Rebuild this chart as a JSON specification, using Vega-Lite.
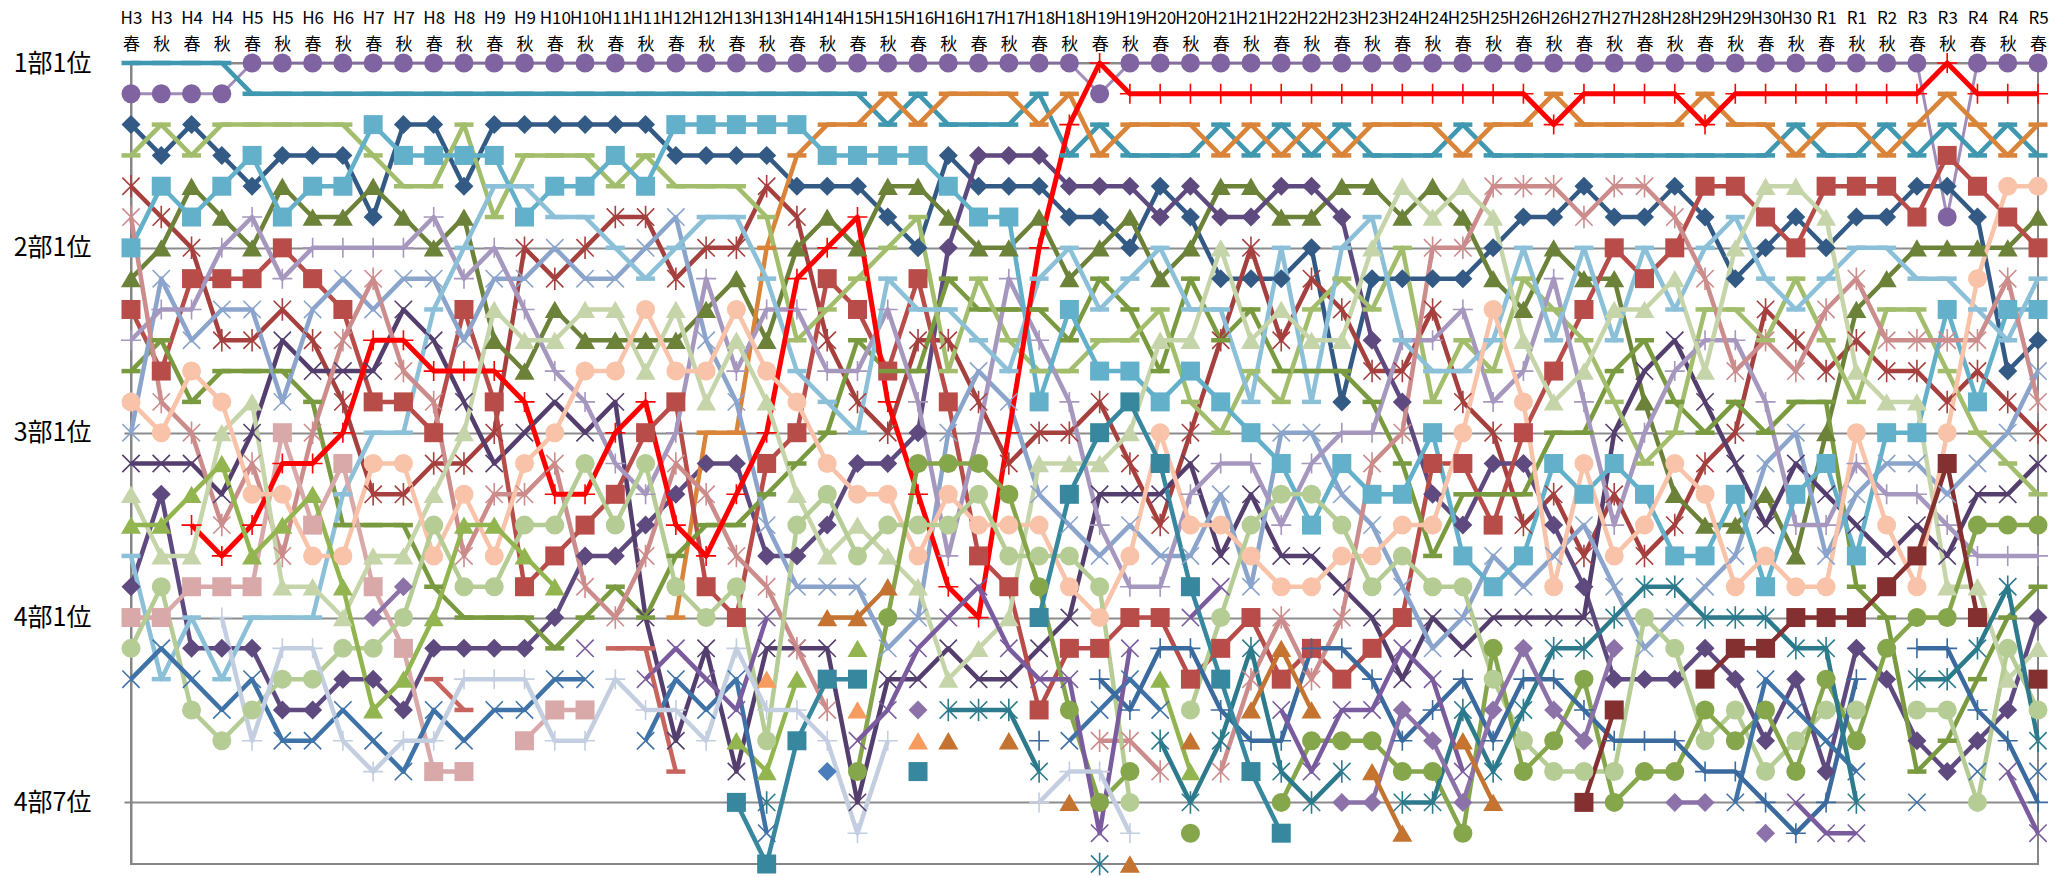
{"$schema":"https://vega.github.io/schema/vega-lite/v6.json","autosize":{"type":"none"},"padding":{"left":131,"top":63,"right":24,"bottom":12},"width":1907,"height":801,"background":"white","config":{"legend":{"disable":true},"view":{"stroke":"#868686","strokeWidth":2},"font":"Noto Sans CJK JP"},
"data":{"values":[
{"s":1,"t":0,"r":3},{"s":1,"t":1,"r":4},{"s":1,"t":2,"r":3},{"s":1,"t":3,"r":4},{"s":1,"t":4,"r":5},{"s":1,"t":5,"r":4},{"s":1,"t":6,"r":4},{"s":1,"t":7,"r":4},{"s":1,"t":8,"r":6},{"s":1,"t":9,"r":3},{"s":1,"t":10,"r":3},{"s":1,"t":11,"r":5},{"s":1,"t":12,"r":3},{"s":1,"t":13,"r":3},{"s":1,"t":14,"r":3},{"s":1,"t":15,"r":3},{"s":1,"t":16,"r":3},{"s":1,"t":17,"r":3},{"s":1,"t":18,"r":4},{"s":1,"t":19,"r":4},{"s":1,"t":20,"r":4},{"s":1,"t":21,"r":4},{"s":1,"t":22,"r":5},{"s":1,"t":23,"r":5},{"s":1,"t":24,"r":5},{"s":1,"t":25,"r":6},{"s":1,"t":26,"r":7},{"s":1,"t":27,"r":4},{"s":1,"t":28,"r":5},{"s":1,"t":29,"r":5},{"s":1,"t":30,"r":5},{"s":1,"t":31,"r":6},{"s":1,"t":32,"r":6},{"s":1,"t":33,"r":7},{"s":1,"t":34,"r":5},{"s":1,"t":35,"r":6},{"s":1,"t":36,"r":8},{"s":1,"t":37,"r":8},{"s":1,"t":38,"r":8},{"s":1,"t":39,"r":7},{"s":1,"t":40,"r":12},{"s":1,"t":41,"r":8},{"s":1,"t":42,"r":8},{"s":1,"t":43,"r":8},{"s":1,"t":44,"r":8},{"s":1,"t":45,"r":7},{"s":1,"t":46,"r":6},{"s":1,"t":47,"r":6},{"s":1,"t":48,"r":5},{"s":1,"t":49,"r":6},{"s":1,"t":50,"r":6},{"s":1,"t":51,"r":5},{"s":1,"t":52,"r":6},{"s":1,"t":53,"r":8},{"s":1,"t":54,"r":7},{"s":1,"t":55,"r":6},{"s":1,"t":56,"r":7},{"s":1,"t":57,"r":6},{"s":1,"t":58,"r":6},{"s":1,"t":59,"r":5},{"s":1,"t":60,"r":5},{"s":1,"t":61,"r":6},{"s":1,"t":62,"r":11},{"s":1,"t":63,"r":10},
{"s":2,"t":0,"r":5},{"s":2,"t":1,"r":6},{"s":2,"t":2,"r":7},{"s":2,"t":3,"r":10},{"s":2,"t":4,"r":10},{"s":2,"t":5,"r":9},{"s":2,"t":6,"r":10},{"s":2,"t":7,"r":12},{"s":2,"t":8,"r":15},{"s":2,"t":9,"r":15},{"s":2,"t":10,"r":14},{"s":2,"t":11,"r":14},{"s":2,"t":12,"r":13},{"s":2,"t":13,"r":7},{"s":2,"t":14,"r":8},{"s":2,"t":15,"r":7},{"s":2,"t":16,"r":6},{"s":2,"t":17,"r":6},{"s":2,"t":18,"r":8},{"s":2,"t":19,"r":7},{"s":2,"t":20,"r":7},{"s":2,"t":21,"r":5},{"s":2,"t":22,"r":6},{"s":2,"t":23,"r":10},{"s":2,"t":24,"r":12},{"s":2,"t":25,"r":13},{"s":2,"t":26,"r":10},{"s":2,"t":27,"r":10},{"s":2,"t":28,"r":12},{"s":2,"t":29,"r":14},{"s":2,"t":30,"r":13},{"s":2,"t":31,"r":13},{"s":2,"t":32,"r":12},{"s":2,"t":33,"r":14},{"s":2,"t":34,"r":16},{"s":2,"t":35,"r":13},{"s":2,"t":36,"r":10},{"s":2,"t":37,"r":7},{"s":2,"t":38,"r":10},{"s":2,"t":39,"r":8},{"s":2,"t":40,"r":9},{"s":2,"t":41,"r":11},{"s":2,"t":42,"r":11},{"s":2,"t":43,"r":9},{"s":2,"t":44,"r":12},{"s":2,"t":45,"r":13},{"s":2,"t":46,"r":16},{"s":2,"t":47,"r":15},{"s":2,"t":48,"r":17},{"s":2,"t":49,"r":15},{"s":2,"t":50,"r":17},{"s":2,"t":51,"r":16},{"s":2,"t":52,"r":14},{"s":2,"t":53,"r":13},{"s":2,"t":54,"r":9},{"s":2,"t":55,"r":10},{"s":2,"t":56,"r":11},{"s":2,"t":57,"r":10},{"s":2,"t":58,"r":11},{"s":2,"t":59,"r":11},{"s":2,"t":60,"r":12},{"s":2,"t":61,"r":11},{"s":2,"t":62,"r":12},{"s":2,"t":63,"r":13},
{"s":3,"t":0,"r":8},{"s":3,"t":1,"r":7},{"s":3,"t":2,"r":5},{"s":3,"t":3,"r":6},{"s":3,"t":4,"r":7},{"s":3,"t":5,"r":5},{"s":3,"t":6,"r":6},{"s":3,"t":7,"r":6},{"s":3,"t":8,"r":5},{"s":3,"t":9,"r":6},{"s":3,"t":10,"r":7},{"s":3,"t":11,"r":6},{"s":3,"t":12,"r":10},{"s":3,"t":13,"r":11},{"s":3,"t":14,"r":9},{"s":3,"t":15,"r":10},{"s":3,"t":16,"r":10},{"s":3,"t":17,"r":10},{"s":3,"t":18,"r":10},{"s":3,"t":19,"r":9},{"s":3,"t":20,"r":8},{"s":3,"t":21,"r":10},{"s":3,"t":22,"r":7},{"s":3,"t":23,"r":6},{"s":3,"t":24,"r":7},{"s":3,"t":25,"r":5},{"s":3,"t":26,"r":5},{"s":3,"t":27,"r":6},{"s":3,"t":28,"r":7},{"s":3,"t":29,"r":7},{"s":3,"t":30,"r":6},{"s":3,"t":31,"r":8},{"s":3,"t":32,"r":7},{"s":3,"t":33,"r":6},{"s":3,"t":34,"r":8},{"s":3,"t":35,"r":7},{"s":3,"t":36,"r":5},{"s":3,"t":37,"r":5},{"s":3,"t":38,"r":6},{"s":3,"t":39,"r":6},{"s":3,"t":40,"r":5},{"s":3,"t":41,"r":5},{"s":3,"t":42,"r":6},{"s":3,"t":43,"r":5},{"s":3,"t":44,"r":6},{"s":3,"t":45,"r":8},{"s":3,"t":46,"r":9},{"s":3,"t":47,"r":7},{"s":3,"t":48,"r":8},{"s":3,"t":49,"r":8},{"s":3,"t":50,"r":12},{"s":3,"t":51,"r":15},{"s":3,"t":52,"r":16},{"s":3,"t":53,"r":16},{"s":3,"t":54,"r":15},{"s":3,"t":55,"r":17},{"s":3,"t":56,"r":13},{"s":3,"t":57,"r":9},{"s":3,"t":58,"r":8},{"s":3,"t":59,"r":7},{"s":3,"t":60,"r":7},{"s":3,"t":61,"r":7},{"s":3,"t":62,"r":7},{"s":3,"t":63,"r":6},
{"s":4,"t":0,"r":18},{"s":4,"t":1,"r":15},{"s":4,"t":2,"r":20},{"s":4,"t":3,"r":20},{"s":4,"t":4,"r":20},{"s":4,"t":5,"r":22},{"s":4,"t":6,"r":22},{"s":4,"t":7,"r":21},{"s":4,"t":8,"r":21},{"s":4,"t":9,"r":22},{"s":4,"t":10,"r":20},{"s":4,"t":11,"r":20},{"s":4,"t":12,"r":20},{"s":4,"t":13,"r":20},{"s":4,"t":14,"r":19},{"s":4,"t":15,"r":17},{"s":4,"t":16,"r":17},{"s":4,"t":17,"r":16},{"s":4,"t":18,"r":15},{"s":4,"t":19,"r":14},{"s":4,"t":20,"r":14},{"s":4,"t":21,"r":17},{"s":4,"t":22,"r":17},{"s":4,"t":23,"r":16},{"s":4,"t":24,"r":14},{"s":4,"t":25,"r":14},{"s":4,"t":26,"r":13},{"s":4,"t":27,"r":7},{"s":4,"t":28,"r":4},{"s":4,"t":29,"r":4},{"s":4,"t":30,"r":4},{"s":4,"t":31,"r":5},{"s":4,"t":32,"r":5},{"s":4,"t":33,"r":5},{"s":4,"t":34,"r":6},{"s":4,"t":35,"r":5},{"s":4,"t":36,"r":6},{"s":4,"t":37,"r":6},{"s":4,"t":38,"r":5},{"s":4,"t":39,"r":5},{"s":4,"t":40,"r":6},{"s":4,"t":41,"r":10},{"s":4,"t":42,"r":12},{"s":4,"t":43,"r":15},{"s":4,"t":44,"r":16},{"s":4,"t":45,"r":14},{"s":4,"t":46,"r":14},{"s":4,"t":47,"r":16},{"s":4,"t":48,"r":18},{"s":4,"t":49,"r":21},{"s":4,"t":50,"r":21},{"s":4,"t":51,"r":21},{"s":4,"t":52,"r":20},{"s":4,"t":53,"r":21},{"s":4,"t":54,"r":23},{"s":4,"t":55,"r":21},{"s":4,"t":56,"r":24},{"s":4,"t":57,"r":20},{"s":4,"t":58,"r":21},{"s":4,"t":59,"r":23},{"s":4,"t":60,"r":24},{"s":4,"t":61,"r":23},{"s":4,"t":62,"r":22},{"s":4,"t":63,"r":19},
{"s":5,"t":0,"r":14},{"s":5,"t":1,"r":14},{"s":5,"t":2,"r":14},{"s":5,"t":3,"r":15},{"s":5,"t":4,"r":13},{"s":5,"t":5,"r":10},{"s":5,"t":6,"r":11},{"s":5,"t":7,"r":11},{"s":5,"t":8,"r":11},{"s":5,"t":9,"r":9},{"s":5,"t":10,"r":10},{"s":5,"t":11,"r":12},{"s":5,"t":12,"r":14},{"s":5,"t":13,"r":13},{"s":5,"t":14,"r":12},{"s":5,"t":15,"r":13},{"s":5,"t":16,"r":12},{"s":5,"t":17,"r":19},{"s":5,"t":18,"r":23},{"s":5,"t":19,"r":20},{"s":5,"t":20,"r":24},{"s":5,"t":21,"r":20},{"s":5,"t":22,"r":20},{"s":5,"t":23,"r":20},{"s":5,"t":24,"r":25},{"s":5,"t":25,"r":21},{"s":5,"t":26,"r":21},{"s":5,"t":27,"r":20},{"s":5,"t":28,"r":21},{"s":5,"t":29,"r":21},{"s":5,"t":30,"r":20},{"s":5,"t":31,"r":19},{"s":5,"t":32,"r":15},{"s":5,"t":33,"r":15},{"s":5,"t":34,"r":15},{"s":5,"t":35,"r":14},{"s":5,"t":36,"r":17},{"s":5,"t":37,"r":15},{"s":5,"t":38,"r":17},{"s":5,"t":39,"r":17},{"s":5,"t":40,"r":18},{"s":5,"t":41,"r":19},{"s":5,"t":42,"r":21},{"s":5,"t":43,"r":19},{"s":5,"t":44,"r":20},{"s":5,"t":45,"r":19},{"s":5,"t":46,"r":19},{"s":5,"t":47,"r":19},{"s":5,"t":48,"r":19},{"s":5,"t":49,"r":13},{"s":5,"t":50,"r":11},{"s":5,"t":51,"r":10},{"s":5,"t":52,"r":12},{"s":5,"t":53,"r":14},{"s":5,"t":54,"r":16},{"s":5,"t":55,"r":14},{"s":5,"t":56,"r":15},{"s":5,"t":57,"r":16},{"s":5,"t":58,"r":17},{"s":5,"t":59,"r":16},{"s":5,"t":60,"r":17},{"s":5,"t":61,"r":15},{"s":5,"t":62,"r":15},{"s":5,"t":63,"r":14},
{"s":6,"t":0,"r":1},{"s":6,"t":1,"r":1},{"s":6,"t":2,"r":1},{"s":6,"t":3,"r":1},{"s":6,"t":4,"r":2},{"s":6,"t":5,"r":2},{"s":6,"t":6,"r":2},{"s":6,"t":7,"r":2},{"s":6,"t":8,"r":2},{"s":6,"t":9,"r":2},{"s":6,"t":10,"r":2},{"s":6,"t":11,"r":2},{"s":6,"t":12,"r":2},{"s":6,"t":13,"r":2},{"s":6,"t":14,"r":2},{"s":6,"t":15,"r":2},{"s":6,"t":16,"r":2},{"s":6,"t":17,"r":2},{"s":6,"t":18,"r":2},{"s":6,"t":19,"r":2},{"s":6,"t":20,"r":2},{"s":6,"t":21,"r":2},{"s":6,"t":22,"r":2},{"s":6,"t":23,"r":2},{"s":6,"t":24,"r":2},{"s":6,"t":25,"r":3},{"s":6,"t":26,"r":2},{"s":6,"t":27,"r":3},{"s":6,"t":28,"r":3},{"s":6,"t":29,"r":3},{"s":6,"t":30,"r":2},{"s":6,"t":31,"r":4},{"s":6,"t":32,"r":3},{"s":6,"t":33,"r":4},{"s":6,"t":34,"r":4},{"s":6,"t":35,"r":4},{"s":6,"t":36,"r":3},{"s":6,"t":37,"r":4},{"s":6,"t":38,"r":3},{"s":6,"t":39,"r":4},{"s":6,"t":40,"r":3},{"s":6,"t":41,"r":4},{"s":6,"t":42,"r":4},{"s":6,"t":43,"r":4},{"s":6,"t":44,"r":3},{"s":6,"t":45,"r":4},{"s":6,"t":46,"r":4},{"s":6,"t":47,"r":4},{"s":6,"t":48,"r":4},{"s":6,"t":49,"r":4},{"s":6,"t":50,"r":4},{"s":6,"t":51,"r":4},{"s":6,"t":52,"r":4},{"s":6,"t":53,"r":4},{"s":6,"t":54,"r":4},{"s":6,"t":55,"r":3},{"s":6,"t":56,"r":4},{"s":6,"t":57,"r":4},{"s":6,"t":58,"r":3},{"s":6,"t":59,"r":4},{"s":6,"t":60,"r":3},{"s":6,"t":61,"r":4},{"s":6,"t":62,"r":3},{"s":6,"t":63,"r":4},
{"s":7,"t":18,"r":19},{"s":7,"t":19,"r":13},{"s":7,"t":20,"r":13},{"s":7,"t":21,"r":7},{"s":7,"t":22,"r":4},{"s":7,"t":23,"r":3},{"s":7,"t":24,"r":3},{"s":7,"t":25,"r":2},{"s":7,"t":26,"r":3},{"s":7,"t":27,"r":2},{"s":7,"t":28,"r":2},{"s":7,"t":29,"r":2},{"s":7,"t":30,"r":3},{"s":7,"t":31,"r":2},{"s":7,"t":32,"r":4},{"s":7,"t":33,"r":3},{"s":7,"t":34,"r":3},{"s":7,"t":35,"r":3},{"s":7,"t":36,"r":4},{"s":7,"t":37,"r":3},{"s":7,"t":38,"r":4},{"s":7,"t":39,"r":3},{"s":7,"t":40,"r":4},{"s":7,"t":41,"r":3},{"s":7,"t":42,"r":3},{"s":7,"t":43,"r":3},{"s":7,"t":44,"r":4},{"s":7,"t":45,"r":3},{"s":7,"t":46,"r":3},{"s":7,"t":47,"r":2},{"s":7,"t":48,"r":3},{"s":7,"t":49,"r":3},{"s":7,"t":50,"r":3},{"s":7,"t":51,"r":3},{"s":7,"t":52,"r":2},{"s":7,"t":53,"r":3},{"s":7,"t":54,"r":3},{"s":7,"t":55,"r":4},{"s":7,"t":56,"r":3},{"s":7,"t":57,"r":3},{"s":7,"t":58,"r":4},{"s":7,"t":59,"r":3},{"s":7,"t":60,"r":2},{"s":7,"t":61,"r":3},{"s":7,"t":62,"r":4},{"s":7,"t":63,"r":3},
{"s":8,"t":0,"r":9},{"s":8,"t":1,"r":11},{"s":8,"t":2,"r":8},{"s":8,"t":3,"r":8},{"s":8,"t":4,"r":8},{"s":8,"t":5,"r":7},{"s":8,"t":6,"r":8},{"s":8,"t":7,"r":9},{"s":8,"t":8,"r":12},{"s":8,"t":9,"r":12},{"s":8,"t":10,"r":13},{"s":8,"t":11,"r":9},{"s":8,"t":12,"r":12},{"s":8,"t":13,"r":18},{"s":8,"t":14,"r":17},{"s":8,"t":15,"r":16},{"s":8,"t":16,"r":15},{"s":8,"t":17,"r":13},{"s":8,"t":18,"r":12},{"s":8,"t":19,"r":18},{"s":8,"t":20,"r":19},{"s":8,"t":21,"r":14},{"s":8,"t":22,"r":13},{"s":8,"t":23,"r":8},{"s":8,"t":24,"r":9},{"s":8,"t":25,"r":11},{"s":8,"t":26,"r":8},{"s":8,"t":27,"r":12},{"s":8,"t":28,"r":17},{"s":8,"t":29,"r":18},{"s":8,"t":30,"r":22},{"s":8,"t":31,"r":20},{"s":8,"t":32,"r":20},{"s":8,"t":33,"r":19},{"s":8,"t":34,"r":19},{"s":8,"t":35,"r":21},{"s":8,"t":36,"r":20},{"s":8,"t":37,"r":19},{"s":8,"t":38,"r":21},{"s":8,"t":39,"r":20},{"s":8,"t":40,"r":21},{"s":8,"t":41,"r":20},{"s":8,"t":42,"r":19},{"s":8,"t":43,"r":14},{"s":8,"t":44,"r":14},{"s":8,"t":45,"r":16},{"s":8,"t":46,"r":13},{"s":8,"t":47,"r":11},{"s":8,"t":48,"r":9},{"s":8,"t":49,"r":7},{"s":8,"t":50,"r":8},{"s":8,"t":51,"r":7},{"s":8,"t":52,"r":5},{"s":8,"t":53,"r":5},{"s":8,"t":54,"r":6},{"s":8,"t":55,"r":7},{"s":8,"t":56,"r":5},{"s":8,"t":57,"r":5},{"s":8,"t":58,"r":5},{"s":8,"t":59,"r":6},{"s":8,"t":60,"r":4},{"s":8,"t":61,"r":5},{"s":8,"t":62,"r":6},{"s":8,"t":63,"r":7},
{"s":9,"t":0,"r":11},{"s":9,"t":1,"r":10},{"s":9,"t":2,"r":12},{"s":9,"t":3,"r":11},{"s":9,"t":4,"r":11},{"s":9,"t":5,"r":11},{"s":9,"t":6,"r":12},{"s":9,"t":7,"r":16},{"s":9,"t":8,"r":16},{"s":9,"t":9,"r":16},{"s":9,"t":10,"r":18},{"s":9,"t":11,"r":19},{"s":9,"t":12,"r":19},{"s":9,"t":13,"r":19},{"s":9,"t":14,"r":20},{"s":9,"t":15,"r":19},{"s":9,"t":16,"r":18},{"s":9,"t":17,"r":19},{"s":9,"t":18,"r":17},{"s":9,"t":19,"r":16},{"s":9,"t":20,"r":16},{"s":9,"t":21,"r":15},{"s":9,"t":22,"r":14},{"s":9,"t":23,"r":13},{"s":9,"t":24,"r":10},{"s":9,"t":25,"r":11},{"s":9,"t":26,"r":11},{"s":9,"t":27,"r":8},{"s":9,"t":28,"r":9},{"s":9,"t":29,"r":9},{"s":9,"t":30,"r":9},{"s":9,"t":31,"r":10},{"s":9,"t":32,"r":8},{"s":9,"t":33,"r":9},{"s":9,"t":34,"r":11},{"s":9,"t":35,"r":8},{"s":9,"t":36,"r":10},{"s":9,"t":37,"r":9},{"s":9,"t":38,"r":11},{"s":9,"t":39,"r":11},{"s":9,"t":40,"r":11},{"s":9,"t":41,"r":12},{"s":9,"t":42,"r":14},{"s":9,"t":43,"r":17},{"s":9,"t":44,"r":15},{"s":9,"t":45,"r":15},{"s":9,"t":46,"r":15},{"s":9,"t":47,"r":13},{"s":9,"t":48,"r":13},{"s":9,"t":49,"r":11},{"s":9,"t":50,"r":10},{"s":9,"t":51,"r":12},{"s":9,"t":52,"r":13},{"s":9,"t":53,"r":12},{"s":9,"t":54,"r":13},{"s":9,"t":55,"r":12},{"s":9,"t":56,"r":12},{"s":9,"t":57,"r":18},{"s":9,"t":58,"r":19},{"s":9,"t":59,"r":24},{"s":9,"t":60,"r":23},{"s":9,"t":61,"r":21},{"s":9,"t":62,"r":19},{"s":9,"t":63,"r":18},
{"s":10,"t":0,"r":4},{"s":10,"t":1,"r":3},{"s":10,"t":2,"r":4},{"s":10,"t":3,"r":3},{"s":10,"t":4,"r":3},{"s":10,"t":5,"r":3},{"s":10,"t":6,"r":3},{"s":10,"t":7,"r":3},{"s":10,"t":8,"r":4},{"s":10,"t":9,"r":5},{"s":10,"t":10,"r":5},{"s":10,"t":11,"r":3},{"s":10,"t":12,"r":6},{"s":10,"t":13,"r":4},{"s":10,"t":14,"r":4},{"s":10,"t":15,"r":4},{"s":10,"t":16,"r":5},{"s":10,"t":17,"r":4},{"s":10,"t":18,"r":5},{"s":10,"t":19,"r":5},{"s":10,"t":20,"r":5},{"s":10,"t":21,"r":6},{"s":10,"t":22,"r":10},{"s":10,"t":23,"r":9},{"s":10,"t":24,"r":8},{"s":10,"t":25,"r":7},{"s":10,"t":26,"r":6},{"s":10,"t":27,"r":11},{"s":10,"t":28,"r":8},{"s":10,"t":29,"r":10},{"s":10,"t":30,"r":11},{"s":10,"t":31,"r":11},{"s":10,"t":32,"r":10},{"s":10,"t":33,"r":10},{"s":10,"t":34,"r":9},{"s":10,"t":35,"r":12},{"s":10,"t":36,"r":13},{"s":10,"t":37,"r":11},{"s":10,"t":38,"r":12},{"s":10,"t":39,"r":9},{"s":10,"t":40,"r":8},{"s":10,"t":41,"r":9},{"s":10,"t":42,"r":7},{"s":10,"t":43,"r":12},{"s":10,"t":44,"r":10},{"s":10,"t":45,"r":11},{"s":10,"t":46,"r":8},{"s":10,"t":47,"r":9},{"s":10,"t":48,"r":10},{"s":10,"t":49,"r":12},{"s":10,"t":50,"r":14},{"s":10,"t":51,"r":13},{"s":10,"t":52,"r":9},{"s":10,"t":53,"r":9},{"s":10,"t":54,"r":10},{"s":10,"t":55,"r":8},{"s":10,"t":56,"r":10},{"s":10,"t":57,"r":12},{"s":10,"t":58,"r":9},{"s":10,"t":59,"r":9},{"s":10,"t":60,"r":11},{"s":10,"t":61,"r":13},{"s":10,"t":62,"r":14},{"s":10,"t":63,"r":15},
{"s":11,"t":0,"r":13},{"s":11,"t":1,"r":8},{"s":11,"t":2,"r":10},{"s":11,"t":3,"r":9},{"s":11,"t":4,"r":9},{"s":11,"t":5,"r":12},{"s":11,"t":6,"r":9},{"s":11,"t":7,"r":8},{"s":11,"t":8,"r":9},{"s":11,"t":9,"r":8},{"s":11,"t":10,"r":8},{"s":11,"t":11,"r":10},{"s":11,"t":12,"r":8},{"s":11,"t":13,"r":8},{"s":11,"t":14,"r":7},{"s":11,"t":15,"r":8},{"s":11,"t":16,"r":8},{"s":11,"t":17,"r":7},{"s":11,"t":18,"r":6},{"s":11,"t":19,"r":10},{"s":11,"t":20,"r":12},{"s":11,"t":21,"r":16},{"s":11,"t":22,"r":18},{"s":11,"t":23,"r":18},{"s":11,"t":24,"r":18},{"s":11,"t":25,"r":20},{"s":11,"t":26,"r":19},{"s":11,"t":27,"r":13},{"s":11,"t":28,"r":11},{"s":11,"t":29,"r":12},{"s":11,"t":30,"r":15},{"s":11,"t":31,"r":16},{"s":11,"t":32,"r":17},{"s":11,"t":33,"r":16},{"s":11,"t":34,"r":17},{"s":11,"t":35,"r":17},{"s":11,"t":36,"r":15},{"s":11,"t":37,"r":18},{"s":11,"t":38,"r":13},{"s":11,"t":39,"r":13},{"s":11,"t":40,"r":15},{"s":11,"t":41,"r":16},{"s":11,"t":42,"r":18},{"s":11,"t":43,"r":20},{"s":11,"t":44,"r":19},{"s":11,"t":45,"r":17},{"s":11,"t":46,"r":18},{"s":11,"t":47,"r":17},{"s":11,"t":48,"r":16},{"s":11,"t":49,"r":18},{"s":11,"t":50,"r":20},{"s":11,"t":51,"r":19},{"s":11,"t":52,"r":18},{"s":11,"t":53,"r":17},{"s":11,"t":54,"r":14},{"s":11,"t":55,"r":13},{"s":11,"t":56,"r":17},{"s":11,"t":57,"r":15},{"s":11,"t":58,"r":14},{"s":11,"t":59,"r":14},{"s":11,"t":60,"r":15},{"s":11,"t":61,"r":14},{"s":11,"t":62,"r":13},{"s":11,"t":63,"r":11},
{"s":12,"t":0,"r":10},{"s":12,"t":1,"r":9},{"s":12,"t":2,"r":9},{"s":12,"t":3,"r":7},{"s":12,"t":4,"r":6},{"s":12,"t":5,"r":8},{"s":12,"t":6,"r":7},{"s":12,"t":7,"r":7},{"s":12,"t":8,"r":7},{"s":12,"t":9,"r":7},{"s":12,"t":10,"r":6},{"s":12,"t":11,"r":8},{"s":12,"t":12,"r":7},{"s":12,"t":13,"r":9},{"s":12,"t":14,"r":11},{"s":12,"t":15,"r":12},{"s":12,"t":16,"r":14},{"s":12,"t":17,"r":15},{"s":12,"t":18,"r":13},{"s":12,"t":19,"r":8},{"s":12,"t":20,"r":11},{"s":12,"t":21,"r":9},{"s":12,"t":22,"r":9},{"s":12,"t":23,"r":11},{"s":12,"t":24,"r":11},{"s":12,"t":25,"r":9},{"s":12,"t":26,"r":12},{"s":12,"t":27,"r":17},{"s":12,"t":28,"r":13},{"s":12,"t":29,"r":8},{"s":12,"t":30,"r":10},{"s":12,"t":31,"r":12},{"s":12,"t":32,"r":16},{"s":12,"t":33,"r":18},{"s":12,"t":34,"r":18},{"s":12,"t":35,"r":15},{"s":12,"t":36,"r":14},{"s":12,"t":37,"r":14},{"s":12,"t":38,"r":16},{"s":12,"t":39,"r":14},{"s":12,"t":40,"r":13},{"s":12,"t":41,"r":13},{"s":12,"t":42,"r":10},{"s":12,"t":43,"r":10},{"s":12,"t":44,"r":9},{"s":12,"t":45,"r":12},{"s":12,"t":46,"r":11},{"s":12,"t":47,"r":8},{"s":12,"t":48,"r":12},{"s":12,"t":49,"r":16},{"s":12,"t":50,"r":13},{"s":12,"t":51,"r":11},{"s":12,"t":52,"r":10},{"s":12,"t":53,"r":10},{"s":12,"t":54,"r":12},{"s":12,"t":55,"r":16},{"s":12,"t":56,"r":16},{"s":12,"t":57,"r":14},{"s":12,"t":58,"r":15},{"s":12,"t":59,"r":15},{"s":12,"t":60,"r":16},{"s":12,"t":61,"r":17},{"s":12,"t":62,"r":17},{"s":12,"t":63,"r":17},
{"s":13,"t":0,"r":7},{"s":13,"t":1,"r":5},{"s":13,"t":2,"r":6},{"s":13,"t":3,"r":5},{"s":13,"t":4,"r":4},{"s":13,"t":5,"r":6},{"s":13,"t":6,"r":5},{"s":13,"t":7,"r":5},{"s":13,"t":8,"r":3},{"s":13,"t":9,"r":4},{"s":13,"t":10,"r":4},{"s":13,"t":11,"r":4},{"s":13,"t":12,"r":4},{"s":13,"t":13,"r":6},{"s":13,"t":14,"r":5},{"s":13,"t":15,"r":5},{"s":13,"t":16,"r":4},{"s":13,"t":17,"r":5},{"s":13,"t":18,"r":3},{"s":13,"t":19,"r":3},{"s":13,"t":20,"r":3},{"s":13,"t":21,"r":3},{"s":13,"t":22,"r":3},{"s":13,"t":23,"r":4},{"s":13,"t":24,"r":4},{"s":13,"t":25,"r":4},{"s":13,"t":26,"r":4},{"s":13,"t":27,"r":5},{"s":13,"t":28,"r":6},{"s":13,"t":29,"r":6},{"s":13,"t":30,"r":12},{"s":13,"t":31,"r":9},{"s":13,"t":32,"r":11},{"s":13,"t":33,"r":11},{"s":13,"t":34,"r":12},{"s":13,"t":35,"r":11},{"s":13,"t":36,"r":12},{"s":13,"t":37,"r":13},{"s":13,"t":38,"r":14},{"s":13,"t":39,"r":16},{"s":13,"t":40,"r":14},{"s":13,"t":41,"r":15},{"s":13,"t":42,"r":15},{"s":13,"t":43,"r":13},{"s":13,"t":44,"r":17},{"s":13,"t":45,"r":18},{"s":13,"t":46,"r":17},{"s":13,"t":47,"r":14},{"s":13,"t":48,"r":15},{"s":13,"t":49,"r":14},{"s":13,"t":50,"r":15},{"s":13,"t":51,"r":17},{"s":13,"t":52,"r":17},{"s":13,"t":53,"r":15},{"s":13,"t":54,"r":18},{"s":13,"t":55,"r":15},{"s":13,"t":56,"r":14},{"s":13,"t":57,"r":17},{"s":13,"t":58,"r":13},{"s":13,"t":59,"r":13},{"s":13,"t":60,"r":9},{"s":13,"t":61,"r":12},{"s":13,"t":62,"r":9},{"s":13,"t":63,"r":9},
{"s":14,"t":0,"r":17},{"s":14,"t":1,"r":21},{"s":14,"t":2,"r":19},{"s":14,"t":3,"r":21},{"s":14,"t":4,"r":19},{"s":14,"t":5,"r":19},{"s":14,"t":6,"r":19},{"s":14,"t":7,"r":15},{"s":14,"t":8,"r":13},{"s":14,"t":9,"r":13},{"s":14,"t":10,"r":9},{"s":14,"t":11,"r":7},{"s":14,"t":12,"r":5},{"s":14,"t":13,"r":5},{"s":14,"t":14,"r":6},{"s":14,"t":15,"r":6},{"s":14,"t":16,"r":7},{"s":14,"t":17,"r":8},{"s":14,"t":18,"r":7},{"s":14,"t":19,"r":6},{"s":14,"t":20,"r":6},{"s":14,"t":21,"r":8},{"s":14,"t":22,"r":11},{"s":14,"t":23,"r":12},{"s":14,"t":24,"r":13},{"s":14,"t":25,"r":8},{"s":14,"t":26,"r":9},{"s":14,"t":27,"r":9},{"s":14,"t":28,"r":10},{"s":14,"t":29,"r":11},{"s":14,"t":30,"r":8},{"s":14,"t":31,"r":7},{"s":14,"t":32,"r":9},{"s":14,"t":33,"r":8},{"s":14,"t":34,"r":7},{"s":14,"t":35,"r":9},{"s":14,"t":36,"r":9},{"s":14,"t":37,"r":12},{"s":14,"t":38,"r":7},{"s":14,"t":39,"r":12},{"s":14,"t":40,"r":7},{"s":14,"t":41,"r":6},{"s":14,"t":42,"r":10},{"s":14,"t":43,"r":11},{"s":14,"t":44,"r":11},{"s":14,"t":45,"r":10},{"s":14,"t":46,"r":7},{"s":14,"t":47,"r":10},{"s":14,"t":48,"r":7},{"s":14,"t":49,"r":10},{"s":14,"t":50,"r":7},{"s":14,"t":51,"r":9},{"s":14,"t":52,"r":7},{"s":14,"t":53,"r":6},{"s":14,"t":54,"r":8},{"s":14,"t":55,"r":9},{"s":14,"t":56,"r":8},{"s":14,"t":57,"r":7},{"s":14,"t":58,"r":7},{"s":14,"t":59,"r":8},{"s":14,"t":60,"r":8},{"s":14,"t":61,"r":9},{"s":14,"t":62,"r":10},{"s":14,"t":63,"r":8},
{"s":15,"t":0,"r":6},{"s":15,"t":1,"r":12},{"s":15,"t":2,"r":13},{"s":15,"t":3,"r":16},{"s":15,"t":4,"r":14},{"s":15,"t":5,"r":17},{"s":15,"t":6,"r":13},{"s":15,"t":7,"r":10},{"s":15,"t":8,"r":8},{"s":15,"t":9,"r":11},{"s":15,"t":10,"r":12},{"s":15,"t":11,"r":17},{"s":15,"t":12,"r":15},{"s":15,"t":13,"r":15},{"s":15,"t":14,"r":14},{"s":15,"t":15,"r":18},{"s":15,"t":16,"r":19},{"s":15,"t":17,"r":17},{"s":15,"t":18,"r":14},{"s":15,"t":19,"r":15},{"s":15,"t":20,"r":17},{"s":15,"t":21,"r":18},{"s":15,"t":22,"r":20},{"s":15,"t":23,"r":22},{"s":15,"t":24,"r":null},{"s":15,"t":32,"r":23},{"s":15,"t":33,"r":23},{"s":15,"t":34,"r":24},{"s":15,"t":35,"r":null},{"s":15,"t":36,"r":24},{"s":15,"t":37,"r":21},{"s":15,"t":38,"r":19},{"s":15,"t":39,"r":21},{"s":15,"t":40,"r":19},{"s":15,"t":41,"r":14},{"s":15,"t":42,"r":13},{"s":15,"t":43,"r":7},{"s":15,"t":44,"r":7},{"s":15,"t":45,"r":5},{"s":15,"t":46,"r":5},{"s":15,"t":47,"r":5},{"s":15,"t":48,"r":6},{"s":15,"t":49,"r":5},{"s":15,"t":50,"r":5},{"s":15,"t":51,"r":6},{"s":15,"t":52,"r":8},{"s":15,"t":53,"r":11},{"s":15,"t":54,"r":10},{"s":15,"t":55,"r":11},{"s":15,"t":56,"r":9},{"s":15,"t":57,"r":8},{"s":15,"t":58,"r":10},{"s":15,"t":59,"r":10},{"s":15,"t":60,"r":10},{"s":15,"t":61,"r":10},{"s":15,"t":62,"r":8},{"s":15,"t":63,"r":12},
{"s":16,"t":0,"r":19},{"s":16,"t":1,"r":19},{"s":16,"t":2,"r":18},{"s":16,"t":3,"r":18},{"s":16,"t":4,"r":18},{"s":16,"t":5,"r":13},{"s":16,"t":6,"r":16},{"s":16,"t":7,"r":14},{"s":16,"t":8,"r":18},{"s":16,"t":9,"r":20},{"s":16,"t":10,"r":24},{"s":16,"t":11,"r":24},{"s":16,"t":12,"r":null},{"s":16,"t":13,"r":23},{"s":16,"t":14,"r":22},{"s":16,"t":15,"r":22},
{"s":17,"t":0,"r":15},{"s":17,"t":1,"r":17},{"s":17,"t":2,"r":17},{"s":17,"t":3,"r":13},{"s":17,"t":4,"r":12},{"s":17,"t":5,"r":18},{"s":17,"t":6,"r":18},{"s":17,"t":7,"r":19},{"s":17,"t":8,"r":17},{"s":17,"t":9,"r":17},{"s":17,"t":10,"r":15},{"s":17,"t":11,"r":13},{"s":17,"t":12,"r":9},{"s":17,"t":13,"r":10},{"s":17,"t":14,"r":10},{"s":17,"t":15,"r":9},{"s":17,"t":16,"r":9},{"s":17,"t":17,"r":11},{"s":17,"t":18,"r":9},{"s":17,"t":19,"r":12},{"s":17,"t":20,"r":10},{"s":17,"t":21,"r":12},{"s":17,"t":22,"r":15},{"s":17,"t":23,"r":17},{"s":17,"t":24,"r":16},{"s":17,"t":25,"r":17},{"s":17,"t":26,"r":18},{"s":17,"t":27,"r":21},{"s":17,"t":28,"r":20},{"s":17,"t":29,"r":19},{"s":17,"t":30,"r":14},{"s":17,"t":31,"r":14},{"s":17,"t":32,"r":14},{"s":17,"t":33,"r":13},{"s":17,"t":34,"r":10},{"s":17,"t":35,"r":10},{"s":17,"t":36,"r":7},{"s":17,"t":37,"r":10},{"s":17,"t":38,"r":9},{"s":17,"t":39,"r":10},{"s":17,"t":40,"r":10},{"s":17,"t":41,"r":7},{"s":17,"t":42,"r":5},{"s":17,"t":43,"r":6},{"s":17,"t":44,"r":5},{"s":17,"t":45,"r":6},{"s":17,"t":46,"r":10},{"s":17,"t":47,"r":12},{"s":17,"t":48,"r":11},{"s":17,"t":49,"r":9},{"s":17,"t":50,"r":9},{"s":17,"t":51,"r":8},{"s":17,"t":52,"r":11},{"s":17,"t":53,"r":7},{"s":17,"t":54,"r":5},{"s":17,"t":55,"r":5},{"s":17,"t":56,"r":6},{"s":17,"t":57,"r":11},{"s":17,"t":58,"r":12},{"s":17,"t":59,"r":12},{"s":17,"t":60,"r":18},{"s":17,"t":61,"r":18},{"s":17,"t":62,"r":21},{"s":17,"t":63,"r":20},
{"s":18,"t":0,"r":12},{"s":18,"t":1,"r":13},{"s":18,"t":2,"r":11},{"s":18,"t":3,"r":12},{"s":18,"t":4,"r":15},{"s":18,"t":5,"r":15},{"s":18,"t":6,"r":17},{"s":18,"t":7,"r":17},{"s":18,"t":8,"r":14},{"s":18,"t":9,"r":14},{"s":18,"t":10,"r":17},{"s":18,"t":11,"r":15},{"s":18,"t":12,"r":17},{"s":18,"t":13,"r":14},{"s":18,"t":14,"r":13},{"s":18,"t":15,"r":11},{"s":18,"t":16,"r":11},{"s":18,"t":17,"r":9},{"s":18,"t":18,"r":11},{"s":18,"t":19,"r":11},{"s":18,"t":20,"r":9},{"s":18,"t":21,"r":11},{"s":18,"t":22,"r":12},{"s":18,"t":23,"r":14},{"s":18,"t":24,"r":15},{"s":18,"t":25,"r":15},{"s":18,"t":26,"r":17},{"s":18,"t":27,"r":15},{"s":18,"t":28,"r":16},{"s":18,"t":29,"r":16},{"s":18,"t":30,"r":16},{"s":18,"t":31,"r":18},{"s":18,"t":32,"r":19},{"s":18,"t":33,"r":17},{"s":18,"t":34,"r":13},{"s":18,"t":35,"r":16},{"s":18,"t":36,"r":16},{"s":18,"t":37,"r":17},{"s":18,"t":38,"r":18},{"s":18,"t":39,"r":18},{"s":18,"t":40,"r":17},{"s":18,"t":41,"r":17},{"s":18,"t":42,"r":16},{"s":18,"t":43,"r":16},{"s":18,"t":44,"r":13},{"s":18,"t":45,"r":9},{"s":18,"t":46,"r":12},{"s":18,"t":47,"r":18},{"s":18,"t":48,"r":14},{"s":18,"t":49,"r":17},{"s":18,"t":50,"r":16},{"s":18,"t":51,"r":14},{"s":18,"t":52,"r":15},{"s":18,"t":53,"r":18},{"s":18,"t":54,"r":17},{"s":18,"t":55,"r":18},{"s":18,"t":56,"r":18},{"s":18,"t":57,"r":13},{"s":18,"t":58,"r":16},{"s":18,"t":59,"r":18},{"s":18,"t":60,"r":13},{"s":18,"t":61,"r":8},{"s":18,"t":62,"r":5},{"s":18,"t":63,"r":5},
{"s":19,"t":0,"r":20},{"s":19,"t":1,"r":18},{"s":19,"t":2,"r":22},{"s":19,"t":3,"r":23},{"s":19,"t":4,"r":22},{"s":19,"t":5,"r":21},{"s":19,"t":6,"r":21},{"s":19,"t":7,"r":20},{"s":19,"t":8,"r":20},{"s":19,"t":9,"r":19},{"s":19,"t":10,"r":16},{"s":19,"t":11,"r":18},{"s":19,"t":12,"r":18},{"s":19,"t":13,"r":16},{"s":19,"t":14,"r":16},{"s":19,"t":15,"r":14},{"s":19,"t":16,"r":16},{"s":19,"t":17,"r":14},{"s":19,"t":18,"r":18},{"s":19,"t":19,"r":19},{"s":19,"t":20,"r":18},{"s":19,"t":21,"r":23},{"s":19,"t":22,"r":16},{"s":19,"t":23,"r":15},{"s":19,"t":24,"r":17},{"s":19,"t":25,"r":16},{"s":19,"t":26,"r":16},{"s":19,"t":27,"r":16},{"s":19,"t":28,"r":15},{"s":19,"t":29,"r":17},{"s":19,"t":30,"r":17},{"s":19,"t":31,"r":17},{"s":19,"t":32,"r":18},{"s":19,"t":33,"r":25},{"s":19,"t":34,"r":null},{"s":19,"t":35,"r":22},{"s":19,"t":36,"r":19},{"s":19,"t":37,"r":16},{"s":19,"t":38,"r":15},{"s":19,"t":39,"r":15},{"s":19,"t":40,"r":16},{"s":19,"t":41,"r":18},{"s":19,"t":42,"r":17},{"s":19,"t":43,"r":18},{"s":19,"t":44,"r":18},{"s":19,"t":45,"r":21},{"s":19,"t":46,"r":23},{"s":19,"t":47,"r":24},{"s":19,"t":48,"r":24},{"s":19,"t":49,"r":24},{"s":19,"t":50,"r":19},{"s":19,"t":51,"r":20},{"s":19,"t":52,"r":23},{"s":19,"t":53,"r":22},{"s":19,"t":54,"r":24},{"s":19,"t":55,"r":23},{"s":19,"t":56,"r":22},{"s":19,"t":57,"r":22},{"s":19,"t":58,"r":null},{"s":19,"t":59,"r":22},{"s":19,"t":60,"r":22},{"s":19,"t":61,"r":25},{"s":19,"t":62,"r":20},{"s":19,"t":63,"r":22},
{"s":20,"t":24,"r":24},{"s":20,"t":25,"r":19},{"s":20,"t":26,"r":14},{"s":20,"t":27,"r":14},{"s":20,"t":28,"r":14},{"s":20,"t":29,"r":15},{"s":20,"t":30,"r":18},{"s":20,"t":31,"r":22},{"s":20,"t":32,"r":25},{"s":20,"t":33,"r":24},{"s":20,"t":34,"r":null},{"s":20,"t":35,"r":26},{"s":20,"t":36,"r":null},{"s":20,"t":38,"r":25},{"s":20,"t":39,"r":23},{"s":20,"t":40,"r":23},{"s":20,"t":41,"r":23},{"s":20,"t":42,"r":24},{"s":20,"t":43,"r":24},{"s":20,"t":44,"r":26},{"s":20,"t":45,"r":20},{"s":20,"t":46,"r":24},{"s":20,"t":47,"r":23},{"s":20,"t":48,"r":21},{"s":20,"t":49,"r":25},{"s":20,"t":50,"r":24},{"s":20,"t":51,"r":24},{"s":20,"t":52,"r":22},{"s":20,"t":53,"r":23},{"s":20,"t":54,"r":22},{"s":20,"t":55,"r":24},{"s":20,"t":56,"r":21},{"s":20,"t":57,"r":23},{"s":20,"t":58,"r":20},{"s":20,"t":59,"r":19},{"s":20,"t":60,"r":19},{"s":20,"t":61,"r":16},{"s":20,"t":62,"r":16},{"s":20,"t":63,"r":16},
{"s":21,"t":0,"r":16},{"s":21,"t":1,"r":16},{"s":21,"t":2,"r":15},{"s":21,"t":3,"r":14},{"s":21,"t":4,"r":17},{"s":21,"t":5,"r":16},{"s":21,"t":6,"r":15},{"s":21,"t":7,"r":18},{"s":21,"t":8,"r":22},{"s":21,"t":9,"r":21},{"s":21,"t":10,"r":19},{"s":21,"t":11,"r":16},{"s":21,"t":12,"r":16},{"s":21,"t":13,"r":17},{"s":21,"t":14,"r":18},{"s":21,"t":15,"r":null},{"s":21,"t":20,"r":23},{"s":21,"t":21,"r":24},{"s":21,"t":22,"r":21},{"s":21,"t":23,"r":null},{"s":21,"t":24,"r":20},{"s":21,"t":25,"r":null},{"s":21,"t":34,"r":21},{"s":21,"t":35,"r":24},
{"s":22,"t":0,"r":21},{"s":22,"t":1,"r":20},{"s":22,"t":2,"r":21},{"s":22,"t":3,"r":22},{"s":22,"t":4,"r":21},{"s":22,"t":5,"r":23},{"s":22,"t":6,"r":23},{"s":22,"t":7,"r":22},{"s":22,"t":8,"r":23},{"s":22,"t":9,"r":24},{"s":22,"t":10,"r":22},{"s":22,"t":11,"r":23},{"s":22,"t":12,"r":22},{"s":22,"t":13,"r":22},{"s":22,"t":14,"r":21},{"s":22,"t":15,"r":21},{"s":22,"t":16,"r":null},{"s":22,"t":17,"r":23},{"s":22,"t":18,"r":21},{"s":22,"t":19,"r":22},{"s":22,"t":20,"r":21},{"s":22,"t":21,"r":26},{"s":22,"t":22,"r":null},{"s":22,"t":31,"r":23},{"s":22,"t":32,"r":22},{"s":22,"t":33,"r":21},{"s":22,"t":34,"r":22},{"s":22,"t":35,"r":null},{"s":22,"t":53,"r":25},{"s":22,"t":54,"r":21},{"s":22,"t":55,"r":22},{"s":22,"t":56,"r":23},{"s":22,"t":57,"r":24},{"s":22,"t":58,"r":null},{"s":22,"t":59,"r":25},{"s":22,"t":60,"r":null},{"s":22,"t":61,"r":24},{"s":22,"t":62,"r":null},{"s":22,"t":63,"r":24},
{"s":23,"t":30,"r":23},{"s":23,"t":31,"r":null},{"s":23,"t":32,"r":21},{"s":23,"t":33,"r":22},{"s":23,"t":34,"r":20},{"s":23,"t":35,"r":20},{"s":23,"t":36,"r":22},{"s":23,"t":37,"r":23},{"s":23,"t":38,"r":23},{"s":23,"t":39,"r":20},{"s":23,"t":40,"r":20},{"s":23,"t":41,"r":21},{"s":23,"t":42,"r":23},{"s":23,"t":43,"r":22},{"s":23,"t":44,"r":21},{"s":23,"t":45,"r":23},{"s":23,"t":46,"r":21},{"s":23,"t":47,"r":21},{"s":23,"t":48,"r":22},{"s":23,"t":49,"r":23},{"s":23,"t":50,"r":23},{"s":23,"t":51,"r":23},{"s":23,"t":52,"r":24},{"s":23,"t":53,"r":24},{"s":23,"t":54,"r":25},{"s":23,"t":55,"r":26},{"s":23,"t":56,"r":25},{"s":23,"t":57,"r":21},{"s":23,"t":58,"r":null},{"s":23,"t":59,"r":20},{"s":23,"t":60,"r":20},{"s":23,"t":61,"r":22},{"s":23,"t":62,"r":23},{"s":23,"t":63,"r":25},
{"s":24,"t":21,"r":25},{"s":24,"t":22,"r":null},{"s":24,"t":27,"r":22},{"s":24,"t":28,"r":22},{"s":24,"t":29,"r":22},{"s":24,"t":30,"r":24},{"s":24,"t":31,"r":null},{"s":24,"t":32,"r":27},{"s":24,"t":33,"r":null},{"s":24,"t":34,"r":23},{"s":24,"t":35,"r":25},{"s":24,"t":36,"r":23},{"s":24,"t":37,"r":20},{"s":24,"t":38,"r":24},{"s":24,"t":39,"r":25},{"s":24,"t":40,"r":24},{"s":24,"t":41,"r":null},{"s":24,"t":42,"r":25},{"s":24,"t":43,"r":25},{"s":24,"t":44,"r":22},{"s":24,"t":45,"r":24},{"s":24,"t":46,"r":22},{"s":24,"t":47,"r":20},{"s":24,"t":48,"r":20},{"s":24,"t":49,"r":19},{"s":24,"t":50,"r":18},{"s":24,"t":51,"r":18},{"s":24,"t":52,"r":19},{"s":24,"t":53,"r":19},{"s":24,"t":54,"r":19},{"s":24,"t":55,"r":20},{"s":24,"t":56,"r":20},{"s":24,"t":57,"r":25},{"s":24,"t":58,"r":null},{"s":24,"t":59,"r":21},{"s":24,"t":60,"r":21},{"s":24,"t":61,"r":20},{"s":24,"t":62,"r":18},{"s":24,"t":63,"r":23},
{"s":25,"t":15,"r":20},{"s":25,"t":16,"r":null},{"s":25,"t":17,"r":21},{"s":25,"t":18,"r":20},{"s":25,"t":19,"r":21},{"s":25,"t":20,"r":22},{"s":25,"t":21,"r":19},{"s":25,"t":22,"r":null},{"s":25,"t":24,"r":23},{"s":25,"t":25,"r":22},{"s":25,"t":26,"r":20},{"s":25,"t":27,"r":19},{"s":25,"t":28,"r":18},{"s":25,"t":29,"r":20},{"s":25,"t":30,"r":21},{"s":25,"t":31,"r":21},{"s":25,"t":32,"r":26},{"s":25,"t":33,"r":20},{"s":25,"t":34,"r":null},{"s":25,"t":35,"r":19},{"s":25,"t":36,"r":18},{"s":25,"t":37,"r":null},{"s":25,"t":38,"r":22},{"s":25,"t":39,"r":24},{"s":25,"t":40,"r":22},{"s":25,"t":41,"r":22},{"s":25,"t":42,"r":20},{"s":25,"t":43,"r":21},{"s":25,"t":44,"r":24},{"s":25,"t":45,"r":null},{"s":25,"t":55,"r":25},{"s":25,"t":56,"r":26},{"s":25,"t":57,"r":26},{"s":25,"t":58,"r":null},{"s":25,"t":62,"r":24},{"s":25,"t":63,"r":26},
{"s":26,"t":8,"r":19},{"s":26,"t":9,"r":18},{"s":26,"t":10,"r":null},{"s":26,"t":26,"r":22},{"s":26,"t":27,"r":null},{"s":26,"t":40,"r":25},{"s":26,"t":41,"r":25},{"s":26,"t":42,"r":22},{"s":26,"t":43,"r":23},{"s":26,"t":44,"r":25},{"s":26,"t":45,"r":22},{"s":26,"t":46,"r":20},{"s":26,"t":47,"r":22},{"s":26,"t":48,"r":23},{"s":26,"t":49,"r":20},{"s":26,"t":50,"r":null},{"s":26,"t":51,"r":25},{"s":26,"t":52,"r":25},{"s":26,"t":53,"r":null},{"s":26,"t":54,"r":26},
{"s":27,"t":20,"r":25},{"s":27,"t":21,"r":27},{"s":27,"t":22,"r":23},{"s":27,"t":23,"r":21},{"s":27,"t":24,"r":21},{"s":27,"t":25,"r":null},{"s":27,"t":26,"r":24},{"s":27,"t":27,"r":null},{"s":27,"t":30,"r":19},{"s":27,"t":31,"r":15},{"s":27,"t":32,"r":13},{"s":27,"t":33,"r":12},{"s":27,"t":34,"r":14},{"s":27,"t":35,"r":18},{"s":27,"t":36,"r":21},{"s":27,"t":37,"r":24},{"s":27,"t":38,"r":26},
{"s":28,"t":23,"r":19},{"s":28,"t":24,"r":19},{"s":28,"t":25,"r":18},{"s":28,"t":26,"r":null},{"s":28,"t":27,"r":23},{"s":28,"t":28,"r":null},{"s":28,"t":29,"r":23},{"s":28,"t":30,"r":null},{"s":28,"t":31,"r":25},{"s":28,"t":32,"r":null},{"s":28,"t":33,"r":27},{"s":28,"t":34,"r":null},{"s":28,"t":35,"r":23},{"s":28,"t":36,"r":null},{"s":28,"t":37,"r":22},{"s":28,"t":38,"r":20},{"s":28,"t":39,"r":22},{"s":28,"t":40,"r":null},{"s":28,"t":41,"r":24},{"s":28,"t":42,"r":26},{"s":28,"t":43,"r":null},{"s":28,"t":44,"r":23},{"s":28,"t":45,"r":25},
{"s":29,"t":21,"r":21},{"s":29,"t":22,"r":null},{"s":29,"t":24,"r":22},{"s":29,"t":25,"r":null},{"s":29,"t":26,"r":23},
{"s":30,"t":10,"r":21},{"s":30,"t":11,"r":22},{"s":30,"t":12,"r":null},{"s":30,"t":16,"r":20},{"s":30,"t":17,"r":20},{"s":30,"t":18,"r":24},
{"s":31,"t":3,"r":19},{"s":31,"t":4,"r":23},{"s":31,"t":5,"r":20},{"s":31,"t":6,"r":20},{"s":31,"t":7,"r":23},{"s":31,"t":8,"r":24},{"s":31,"t":9,"r":23},{"s":31,"t":10,"r":23},{"s":31,"t":11,"r":21},{"s":31,"t":12,"r":21},{"s":31,"t":13,"r":21},{"s":31,"t":14,"r":23},{"s":31,"t":15,"r":23},{"s":31,"t":16,"r":21},{"s":31,"t":17,"r":22},{"s":31,"t":18,"r":22},{"s":31,"t":19,"r":23},{"s":31,"t":20,"r":20},{"s":31,"t":21,"r":22},{"s":31,"t":22,"r":22},{"s":31,"t":23,"r":23},{"s":31,"t":24,"r":26},{"s":31,"t":25,"r":23},{"s":31,"t":26,"r":null},{"s":31,"t":30,"r":25},{"s":31,"t":31,"r":24},{"s":31,"t":32,"r":24},{"s":31,"t":33,"r":26},
{"s":32,"t":48,"r":25},{"s":32,"t":49,"r":22},{"s":32,"t":50,"r":null},{"s":32,"t":52,"r":21},{"s":32,"t":53,"r":20},{"s":32,"t":54,"r":20},{"s":32,"t":55,"r":19},{"s":32,"t":56,"r":19},{"s":32,"t":57,"r":19},{"s":32,"t":58,"r":18},{"s":32,"t":59,"r":17},{"s":32,"t":60,"r":14},{"s":32,"t":61,"r":19},{"s":32,"t":62,"r":null},{"s":32,"t":63,"r":21},
{"s":33,"t":23,"r":24},
{"s":34,"t":0,"r":2},{"s":34,"t":1,"r":2},{"s":34,"t":2,"r":2},{"s":34,"t":3,"r":2},{"s":34,"t":4,"r":1},{"s":34,"t":5,"r":1},{"s":34,"t":6,"r":1},{"s":34,"t":7,"r":1},{"s":34,"t":8,"r":1},{"s":34,"t":9,"r":1},{"s":34,"t":10,"r":1},{"s":34,"t":11,"r":1},{"s":34,"t":12,"r":1},{"s":34,"t":13,"r":1},{"s":34,"t":14,"r":1},{"s":34,"t":15,"r":1},{"s":34,"t":16,"r":1},{"s":34,"t":17,"r":1},{"s":34,"t":18,"r":1},{"s":34,"t":19,"r":1},{"s":34,"t":20,"r":1},{"s":34,"t":21,"r":1},{"s":34,"t":22,"r":1},{"s":34,"t":23,"r":1},{"s":34,"t":24,"r":1},{"s":34,"t":25,"r":1},{"s":34,"t":26,"r":1},{"s":34,"t":27,"r":1},{"s":34,"t":28,"r":1},{"s":34,"t":29,"r":1},{"s":34,"t":30,"r":1},{"s":34,"t":31,"r":1},{"s":34,"t":32,"r":2},{"s":34,"t":33,"r":1},{"s":34,"t":34,"r":1},{"s":34,"t":35,"r":1},{"s":34,"t":36,"r":1},{"s":34,"t":37,"r":1},{"s":34,"t":38,"r":1},{"s":34,"t":39,"r":1},{"s":34,"t":40,"r":1},{"s":34,"t":41,"r":1},{"s":34,"t":42,"r":1},{"s":34,"t":43,"r":1},{"s":34,"t":44,"r":1},{"s":34,"t":45,"r":1},{"s":34,"t":46,"r":1},{"s":34,"t":47,"r":1},{"s":34,"t":48,"r":1},{"s":34,"t":49,"r":1},{"s":34,"t":50,"r":1},{"s":34,"t":51,"r":1},{"s":34,"t":52,"r":1},{"s":34,"t":53,"r":1},{"s":34,"t":54,"r":1},{"s":34,"t":55,"r":1},{"s":34,"t":56,"r":1},{"s":34,"t":57,"r":1},{"s":34,"t":58,"r":1},{"s":34,"t":59,"r":1},{"s":34,"t":60,"r":6},{"s":34,"t":61,"r":1},{"s":34,"t":62,"r":1},{"s":34,"t":63,"r":1},
{"s":35,"t":2,"r":16},{"s":35,"t":3,"r":17},{"s":35,"t":4,"r":16},{"s":35,"t":5,"r":14},{"s":35,"t":6,"r":14},{"s":35,"t":7,"r":13},{"s":35,"t":8,"r":10},{"s":35,"t":9,"r":10},{"s":35,"t":10,"r":11},{"s":35,"t":11,"r":11},{"s":35,"t":12,"r":11},{"s":35,"t":13,"r":12},{"s":35,"t":14,"r":15},{"s":35,"t":15,"r":15},{"s":35,"t":16,"r":13},{"s":35,"t":17,"r":12},{"s":35,"t":18,"r":16},{"s":35,"t":19,"r":17},{"s":35,"t":20,"r":15},{"s":35,"t":21,"r":13},{"s":35,"t":22,"r":8},{"s":35,"t":23,"r":7},{"s":35,"t":24,"r":6},{"s":35,"t":25,"r":12},{"s":35,"t":26,"r":15},{"s":35,"t":27,"r":18},{"s":35,"t":28,"r":19},{"s":35,"t":29,"r":13},{"s":35,"t":30,"r":7},{"s":35,"t":31,"r":3},{"s":35,"t":32,"r":1},{"s":35,"t":33,"r":2},{"s":35,"t":34,"r":2},{"s":35,"t":35,"r":2},{"s":35,"t":36,"r":2},{"s":35,"t":37,"r":2},{"s":35,"t":38,"r":2},{"s":35,"t":39,"r":2},{"s":35,"t":40,"r":2},{"s":35,"t":41,"r":2},{"s":35,"t":42,"r":2},{"s":35,"t":43,"r":2},{"s":35,"t":44,"r":2},{"s":35,"t":45,"r":2},{"s":35,"t":46,"r":2},{"s":35,"t":47,"r":3},{"s":35,"t":48,"r":2},{"s":35,"t":49,"r":2},{"s":35,"t":50,"r":2},{"s":35,"t":51,"r":2},{"s":35,"t":52,"r":3},{"s":35,"t":53,"r":2},{"s":35,"t":54,"r":2},{"s":35,"t":55,"r":2},{"s":35,"t":56,"r":2},{"s":35,"t":57,"r":2},{"s":35,"t":58,"r":2},{"s":35,"t":59,"r":2},{"s":35,"t":60,"r":1},{"s":35,"t":61,"r":2},{"s":35,"t":62,"r":2},{"s":35,"t":63,"r":2}
]},
"encoding":{
"x":{"field":"t","type":"quantitative","scale":{"domain":[0,63],"nice":false,"zero":false},"axis":{"orient":"top","title":null,"grid":false,"ticks":false,"domain":false,"values":[0,1,2,3,4,5,6,7,8,9,10,11,12,13,14,15,16,17,18,19,20,21,22,23,24,25,26,27,28,29,30,31,32,33,34,35,36,37,38,39,40,41,42,43,44,45,46,47,48,49,50,51,52,53,54,55,56,57,58,59,60,61,62,63],"labelExpr":"[['H3','春'],['H3','秋'],['H4','春'],['H4','秋'],['H5','春'],['H5','秋'],['H6','春'],['H6','秋'],['H7','春'],['H7','秋'],['H8','春'],['H8','秋'],['H9','春'],['H9','秋'],['H10','春'],['H10','秋'],['H11','春'],['H11','秋'],['H12','春'],['H12','秋'],['H13','春'],['H13','秋'],['H14','春'],['H14','秋'],['H15','春'],['H15','秋'],['H16','春'],['H16','秋'],['H17','春'],['H17','秋'],['H18','春'],['H18','秋'],['H19','春'],['H19','秋'],['H20','春'],['H20','秋'],['H21','春'],['H21','秋'],['H22','春'],['H22','秋'],['H23','春'],['H23','秋'],['H24','春'],['H24','秋'],['H25','春'],['H25','秋'],['H26','春'],['H26','秋'],['H27','春'],['H27','秋'],['H28','春'],['H28','秋'],['H29','春'],['H29','秋'],['H30','春'],['H30','秋'],['R1','春'],['R1','秋'],['R2','秋'],['R3','春'],['R3','秋'],['R4','春'],['R4','秋'],['R5','春']][datum.value]","labelFont":"Noto Sans CJK JP","labelFontSize":17,"labelLineHeight":26,"labelPadding":36,"labelColor":"#000000","labelAngle":0,"labelOverlap":false,"labelFlush":false,"labelBound":false}},
"y":{"field":"r","type":"quantitative","scale":{"domain":[1,27],"reverse":true,"nice":false,"zero":false},"axis":{"title":null,"values":[1,7,13,19,25],"grid":true,"gridColor":"#8c8c8c","gridWidth":2,"domainColor":"#868686","domainWidth":2,"tickColor":"#868686","tickWidth":2,"tickSize":7,"labelPadding":33,"labelFont":"Noto Sans CJK JP","labelFontSize":25,"labelColor":"#000000","labelExpr":"{'1':'1部1位','7':'2部1位','13':'3部1位','19':'4部1位','25':'4部7位'}[datum.value]"}},
"color":{"field":"s","type":"nominal","scale":{"domain":[1,2,3,4,5,6,7,8,9,10,11,12,13,14,15,16,17,18,19,20,21,22,23,24,25,26,27,28,29,30,31,32,33,34,35],"range":["#335A85","#A5403E","#6B8238","#5F4A80","#543E6E","#3F97B0","#D98438","#B84C49","#7A9A40","#A2BD6B","#8BA4CC","#A697BF","#62B0C9","#8BC0D8","#CC8C8C","#D9A9A9","#C6D5A9","#F8C3A8","#B5CC94","#86A64C","#92B550","#3F73A8","#3A6A9E","#2C7A8C","#7A5C9E","#8C72A8","#37879F","#C47430","#F89B5E","#C8645E","#C3CEE0","#843030","#4A7EBB","#8064A2","#FF0000"]}}
},
"layer":[
{"mark":{"type":"line","strokeWidth":3,"clip":false,"strokeJoin":"round","opacity":0.75},"transform":[{"filter":{"field":"s","equal":34}}]},
{"mark":{"type":"line","strokeWidth":4.5,"strokeJoin":"round","clip":false},"transform":[{"filter":{"field":"s","oneOf":[1,2,3,4,5,6,7,8,9,10,11,12,13,14,15,16]}}],"encoding":{"detail":{"field":"s"}}},
{"mark":{"type":"line","strokeWidth":5,"clip":false,"strokeJoin":"round"},"transform":[{"filter":{"field":"s","equal":35}}]},
{"mark":{"type":"line","strokeWidth":4.5,"strokeJoin":"round","clip":false},"transform":[{"filter":{"field":"s","oneOf":[17,18,19,20,21,22,23,24,25,26,27,28,29,30,31,32,33]}}],"encoding":{"detail":{"field":"s"}}},
{"mark":{"type":"point","shape":"diamond","filled":true,"size":361,"opacity":1,"clip":false},"transform":[{"filter":{"field":"s","oneOf":[1,4,26,33]}}]},
{"mark":{"type":"point","shape":"square","filled":true,"size":361,"opacity":1,"clip":false},"transform":[{"filter":{"field":"s","oneOf":[8,13,16,27,32]}}]},
{"mark":{"type":"point","shape":"triangle-up","filled":true,"size":400,"opacity":1,"clip":false},"transform":[{"filter":{"field":"s","oneOf":[3,17,21,28,29]}}]},
{"mark":{"type":"point","shape":"M-1,-1L1,1M-1,1L1,-1","filled":false,"size":300,"strokeWidth":1.6,"opacity":1,"clip":false},"transform":[{"filter":{"field":"s","oneOf":[5,11,22,25]}}]},
{"mark":{"type":"point","shape":"M-1,-1L1,1M-1,1L1,-1M0,-1.3L0,1.3","filled":false,"size":300,"strokeWidth":1.6,"opacity":1,"clip":false},"transform":[{"filter":{"field":"s","oneOf":[2,15,24]}}]},
{"mark":{"type":"point","shape":"M0,-1L0,1M-1,0L1,0","filled":false,"size":400,"strokeWidth":1.6,"opacity":1,"clip":false},"transform":[{"filter":{"field":"s","oneOf":[12,23,31,35]}}]},
{"mark":{"type":"point","shape":"M-1,0L1,0","filled":false,"size":361,"strokeWidth":4.5,"opacity":1,"clip":false},"transform":[{"filter":{"field":"s","oneOf":[6,7,9,10,14,30]}}]},
{"mark":{"type":"point","shape":"circle","filled":true,"size":361,"opacity":1,"clip":false},"transform":[{"filter":{"field":"s","oneOf":[18,19,20,34]}}]}
]}
